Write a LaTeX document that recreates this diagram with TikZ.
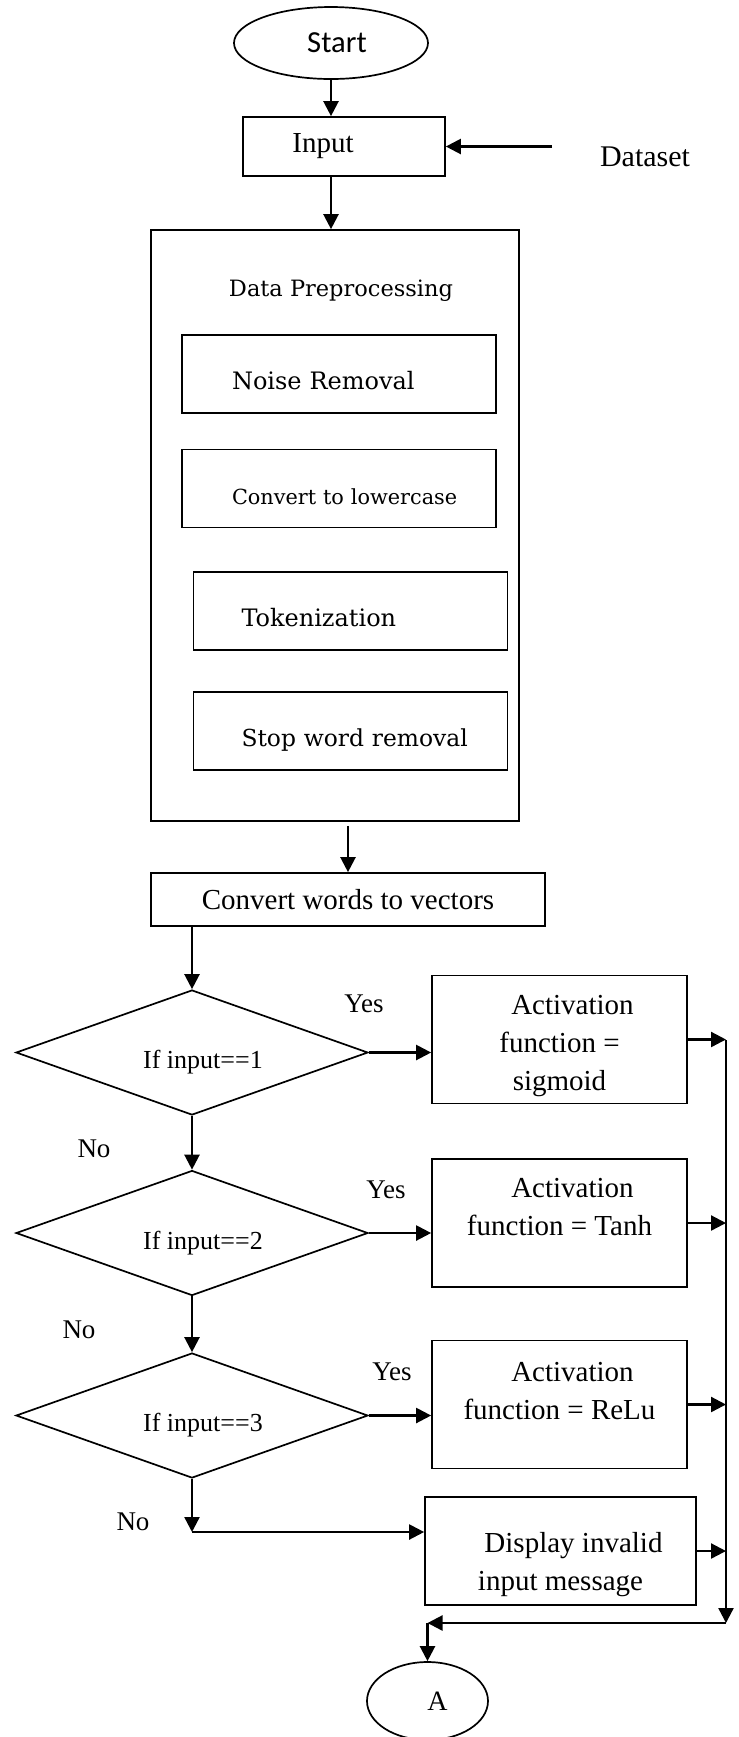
\documentclass[tikz,border=0pt]{standalone}
\usepackage{fontspec}
\setmainfont{Liberation Serif}
\newfontfamily\startfont{Carlito}
\newfontfamily\prepfont{DejaVu Serif}
\usetikzlibrary{arrows.meta,positioning,shapes.geometric,calc}
\newcommand*{\dtext}[1]{\raisebox{-8pt}[0pt][0pt]{\makebox[0pt]{\hspace{11pt}#1}}}

\begin{document}
\begin{tikzpicture}[x=0.5pt, y=-0.5pt,
    font=\fontsize{14.5}{19}\selectfont,
    box/.style={rectangle, draw=black, line width=0.85pt, align=center},
    prepbox/.style={rectangle, draw=black, line width=0.85pt, minimum width=157pt, minimum height=39pt, text width=157pt, inner xsep=0pt, align=left, text height=15.5pt, text depth=0pt},
    actbox/.style={box, minimum width=127.5pt, minimum height=64pt},
    decision/.style={diamond, draw=black, line width=0.85pt, minimum width=176pt, minimum height=62.5pt, aspect=2.8, inner sep=0pt, font=\fontsize{13}{15}\selectfont},
    answer/.style={font=\fontsize{13.5}{15}\selectfont},
    arrow/.style={-{Triangle[length=7.5pt,width=7.5pt]}, line width=1.15pt}]

  \useasboundingbox (0,0) rectangle (739,1737);

  \node[ellipse, draw=black, line width=0.85pt, minimum width=97pt, minimum height=36pt, inner sep=1pt, font=\startfont\fontsize{15.3}{18}\selectfont] (start) at (331,43) {\hspace*{6pt}Start};
  \node[box, minimum width=101pt, minimum height=29.5pt] (input) at (344,146.5) {Input\hspace*{21pt}};
  \node[font=\fontsize{15}{17}\selectfont] (dataset) at (645,157) {Dataset};
  \coordinate (feed) at (552,146.5);

  % preprocessing block
  \node[box, minimum width=184pt, minimum height=295.5pt] (prep) at (335,525.5) {};
  \node[font=\prepfont\fontsize{11.25}{14}\selectfont] (preptitle) at (341,291) {Data Preprocessing};
  \node[prepbox, font=\prepfont\fontsize{12}{14}\selectfont] (noise) at (339,374) {\hspace*{25pt}Noise Removal};
  \node[prepbox, font=\prepfont\fontsize{10.4}{14}\selectfont] (lower) at (339,488.5) {\hspace*{25pt}Convert to lowercase};
  \node[prepbox, font=\prepfont\fontsize{12}{14}\selectfont] (token) at (350.5,611) {\hspace*{24pt}Tokenization};
  \node[prepbox, font=\prepfont\fontsize{11.7}{14}\selectfont] (stopw) at (350.5,731) {\hspace*{24pt}Stop word removal};

  \node[box, minimum width=197pt, minimum height=26.5pt] (vectors) at (348,899.5) {Convert words to vectors};

  % decisions
  \node[decision] (if1) at (192,1052.5) {\dtext{If input==1}};
  \node[decision] (if2) at (192,1233) {\dtext{If input==2}};
  \node[decision] (if3) at (192,1415.5) {\dtext{If input==3}};

  \node[actbox] (sigmoid) at (559.5,1039.5) {~\\[-3pt]\hspace*{13pt}Activation\\function =\\sigmoid};
  \node[actbox] (tanh) at (559.5,1223) {\hspace*{13pt}Activation\\function = Tanh\\[-2.5pt]~};
  \node[actbox] (relu) at (559.5,1404.5) {\hspace*{13pt}Activation\\function = ReLu\\[-5pt]~};
  \node[box, minimum width=135.5pt, minimum height=54pt] (invalid) at (560.5,1551) {~\\[5pt]\hspace*{13pt}Display invalid\\input message};

  \node[answer] (yes1) at (364,1004) {Yes};
  \node[answer] (yes2) at (386,1190) {Yes};
  \node[answer] (yes3) at (392,1372) {Yes};
  \node[answer] (no1) at (94,1149) {No};
  \node[answer] (no2) at (79,1330) {No};
  \node[answer] (no3) at (133,1522) {No};

  \node[ellipse, draw=black, line width=0.85pt, minimum width=60.5pt, minimum height=39pt, inner sep=1pt, font=\fontsize{14}{16}\selectfont] (conn) at (427.5,1701) {\hspace*{10pt}A};

  \coordinate (turn) at (192,1532);
  \coordinate (railtop) at (726,1040);
  \coordinate (railend) at (726,1623);
  \coordinate (merge) at (427.5,1623);

  \draw[arrow] (start.south) -- (start.south |- input.north);
  \draw[arrow] (feed) -- (input.east);
  \draw[arrow] (start.south |- input.south) -- (start.south |- prep.north);
  \draw[arrow, shorten <=2pt] (vectors.north |- prep.south) -- (vectors.north);
  \draw[arrow] (if1.north |- vectors.south) -- (if1.north);
  \draw[arrow] (if1.south) -- (if2.north);
  \draw[arrow] (if2.south) -- (if3.north);
  \draw[arrow] (if3.south) -- (turn);
  \draw[arrow] (turn) -- (turn -| invalid.west);
  \draw[arrow] (if1.east) -- (if1.east -| sigmoid.west);
  \draw[arrow] (if2.east) -- (if2.east -| tanh.west);
  \draw[arrow] (if3.east) -- (if3.east -| relu.west);
  \foreach \act in {sigmoid,tanh,relu,invalid}
    \draw[arrow] (\act.east) -- (\act.east -| railtop);
  \draw[arrow] (railtop) -- (railend);
  \draw[arrow] (railend) -- (merge);
  \draw[arrow] (merge) -- (conn.north);
\end{tikzpicture}
\end{document}
